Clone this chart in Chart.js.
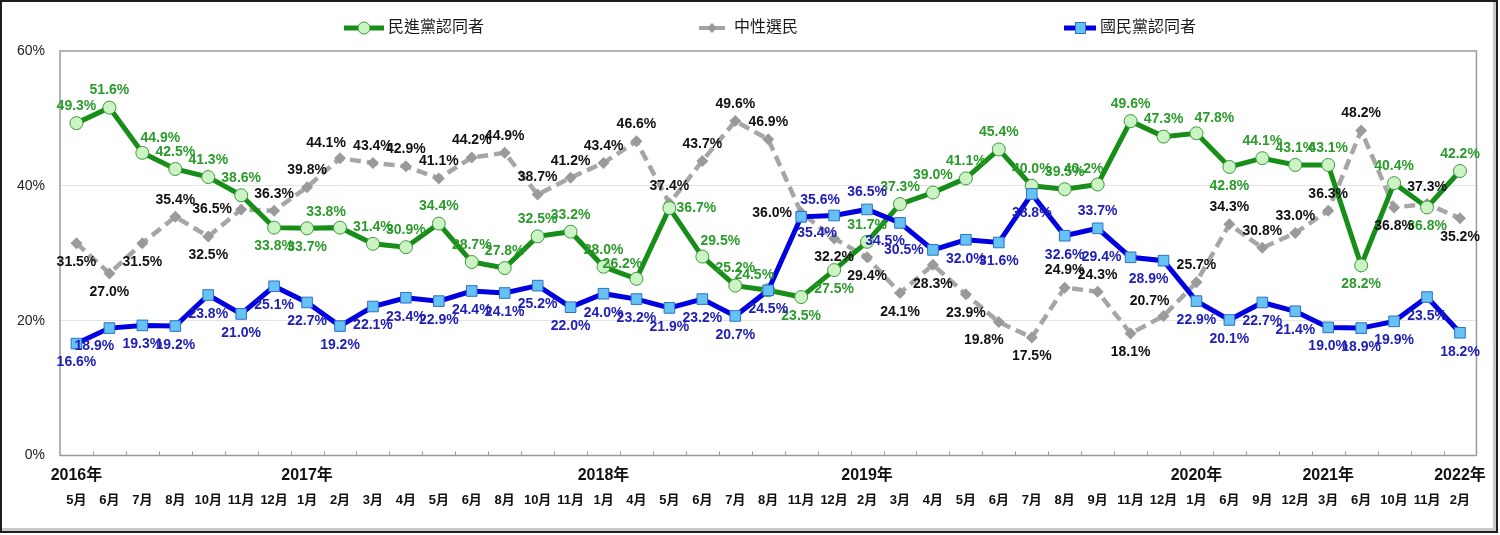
<!DOCTYPE html>
<html>
<head>
<meta charset="utf-8">
<script src="https://cdn.jsdelivr.net/npm/chart.js@4.4.1/dist/chart.umd.min.js"></script>
<style>
  html, body { margin: 0; padding: 0; background: #fff; }
  #frame {
    position: absolute; left: 0; top: 0;
    width: 1494px; height: 529px;
    border: 2px solid #1e1e1e;
    box-shadow: inset -3px -3px 0 #c8c8c8;
  }
  canvas { display: block; }
</style>
</head>
<body>
<div id="frame"><canvas id="chart" width="1494" height="529"></canvas></div>
<script>
// survey months (x categories)
const months = [
  '5月', '6月', '7月', '8月', '10月', '11月', '12月',
  '1月', '2月', '3月', '4月', '5月', '6月', '8月', '10月', '11月',
  '1月', '4月', '5月', '6月', '7月', '8月', '11月', '12月',
  '2月', '3月', '4月', '5月', '6月', '7月', '8月', '9月', '11月', '12月',
  '1月', '6月', '9月', '12月',
  '3月', '6月', '10月', '11月',
  '2月'
]

// year row of the x axis
const yearNames = ['2016年', '2017年', '2018年', '2019年', '2020年', '2021年', '2022年']
const yearAt = [0, 7, 16, 24, 34, 38, 42]

// 民進黨認同者
const dppValues = [
  49.3, 51.6, 44.9, 42.5, 41.3, 38.6, 33.8, 33.7, 33.8, 31.4,
  30.9, 34.4, 28.7, 27.8, 32.5, 33.2, 28.0, 26.2, 36.7, 29.5,
  25.2, 24.5, 23.5, 27.5, 31.7, 37.3, 39.0, 41.1, 45.4, 40.0,
  39.5, 40.2, 49.6, 47.3, 47.8, 42.8, 44.1, 43.1, 43.1, 28.2,
  40.4, 36.8, 42.2
]

// 中性選民
const neutralValues = [
  31.5, 27.0, 31.5, 35.4, 32.5, 36.5, 36.3, 39.8, 44.1, 43.4,
  42.9, 41.1, 44.2, 44.9, 38.7, 41.2, 43.4, 46.6, 37.4, 43.7,
  49.6, 46.9, 36.0, 32.2, 29.4, 24.1, 28.3, 23.9, 19.8, 17.5,
  24.9, 24.3, 18.1, 20.7, 25.7, 34.3, 30.8, 33.0, 36.3, 48.2,
  36.8, 37.3, 35.2
]

// 國民黨認同者
const kmtValues = [
  16.6, 18.9, 19.3, 19.2, 23.8, 21.0, 25.1, 22.7, 19.2, 22.1,
  23.4, 22.9, 24.4, 24.1, 25.2, 22.0, 24.0, 23.2, 21.9, 23.2,
  20.7, 24.5, 35.4, 35.6, 36.5, 34.5, 30.5, 32.0, 31.6, 38.8,
  32.6, 33.7, 29.4, 28.9, 22.9, 20.1, 22.7, 21.4, 19.0, 18.9,
  19.9, 23.5, 18.2
]

// which side of its point each value label sits on
const dppLabelSide = [
  't', 't', 'tr', 't', 't', 't', 'b', 'b', 'tl', 't',
  't', 't', 't', 't', 't', 't', 't', 'tl', 'r', 'tr',
  't', 'tl', 'b', 'b', 't', 't', 't', 't', 't', 't',
  't', 'tl', 't', 't', 'tr', 'b', 't', 't', 't', 'b',
  't', 'b', 't'
]
const neutralLabelSide = [
  'b', 'b', 'b', 't', 'b', 'l', 't', 't', 'tl', 't',
  't', 't', 't', 't', 't', 't', 't', 't', 't', 't',
  't', 't', 'l', 'b', 'b', 'b', 'b', 'b', 'bl', 'b',
  't', 't', 'b', 'tl', 't', 't', 't', 't', 't', 't',
  'b', 't', 'b'
]
const kmtLabelSide = [
  'b', 'bl', 'b', 'b', 'b', 'b', 'b', 'b', 'b', 'b',
  'b', 'b', 'b', 'b', 'b', 'b', 'b', 'b', 'b', 'b',
  'b', 'b', 'br', 'tl', 't', 'bl', 'l', 'b', 'b', 'b',
  'b', 't', 'l', 'bl', 'b', 'b', 'b', 'b', 'b', 'b',
  'b', 'b', 'b'
]

const GREEN = '#178e17'
const GREEN_TEXT = '#2b9b2b'
const GRAY = '#a6a6a6'
const BLUE = '#0000e0'
const BLUE_TEXT = '#2020b8'

const FONT = '"Liberation Sans", Arial, "Noto Sans CJK TC", sans-serif'
Chart.defaults.font.family = FONT

const SIDE_OFFSET = {
  t: [0, -17], b: [0, 19], l: [-29, 0], r: [27, 0],
  tl: [-14, -15], tr: [18, -15], bl: [-15, 18], br: [16, 16]
}

// draw the plot frame, x tick marks, value labels and the legend
const decorations = {
  id: 'decorations',
  beforeDatasetsDraw(chart) {
    const { ctx, chartArea: a, scales } = chart
    ctx.save()
    ctx.strokeStyle = '#9a9a9a'
    ctx.lineWidth = 1.5
    ctx.strokeRect(a.left, a.top, a.right - a.left, a.bottom - a.top)
    ctx.lineWidth = 1
    ctx.beginPath()
    for (let i = 0; i < months.length - 1; i++) {
      const x = Math.round((scales.x.getPixelForValue(i) + scales.x.getPixelForValue(i + 1)) / 2) + 0.5
      ctx.moveTo(x, a.bottom)
      ctx.lineTo(x, a.bottom - 4)
    }
    ctx.stroke()
    ctx.restore()
  },
  afterDatasetsDraw(chart) {
    const { ctx } = chart
    ctx.save()
    ctx.font = 'bold 14px ' + FONT
    ctx.textAlign = 'center'
    ctx.textBaseline = 'middle'
    chart.data.datasets.forEach((ds, di) => {
      const meta = chart.getDatasetMeta(di)
      meta.data.forEach((pt, i) => {
        const [dx, dy] = SIDE_OFFSET[ds.labelSide[i]]
        ctx.fillStyle = ds.labelColor
        ctx.fillText(ds.data[i].toFixed(1) + '%', pt.x + dx, pt.y + dy)
      })
    })
    ctx.restore()
  },
  afterDraw(chart) {
    const { ctx } = chart
    const y = 26
    ctx.save()
    ctx.font = '16px ' + FONT
    ctx.textBaseline = 'middle'
    ctx.fillStyle = '#1a1a1a'

    // 民進黨認同者
    ctx.strokeStyle = GREEN
    ctx.lineWidth = 5
    ctx.beginPath(); ctx.moveTo(342, y); ctx.lineTo(382, y); ctx.stroke()
    ctx.fillStyle = '#ccf3c4'
    ctx.strokeStyle = '#3a9a3a'
    ctx.lineWidth = 1
    ctx.beginPath(); ctx.arc(362, y, 6, 0, Math.PI * 2); ctx.fill(); ctx.stroke()
    ctx.fillStyle = '#1a1a1a'
    ctx.fillText('民進黨認同者', 386, y)

    // 中性選民
    ctx.strokeStyle = GRAY
    ctx.lineWidth = 4
    ctx.beginPath(); ctx.moveTo(697, y); ctx.lineTo(723, y); ctx.stroke()
    ctx.fillStyle = '#9a9a9a'
    ctx.beginPath()
    ctx.moveTo(710, y - 5); ctx.lineTo(715, y); ctx.lineTo(710, y + 5); ctx.lineTo(705, y)
    ctx.closePath(); ctx.fill()
    ctx.fillStyle = '#1a1a1a'
    ctx.fillText('中性選民', 732, y)

    // 國民黨認同者
    ctx.strokeStyle = BLUE
    ctx.lineWidth = 5
    ctx.beginPath(); ctx.moveTo(1062, y); ctx.lineTo(1094, y); ctx.stroke()
    ctx.fillStyle = '#66c2f2'
    ctx.strokeStyle = '#2f6fc8'
    ctx.lineWidth = 1
    ctx.fillRect(1073, y - 6, 11, 12)
    ctx.strokeRect(1073.5, y - 5.5, 10, 11)
    ctx.fillStyle = '#1a1a1a'
    ctx.fillText('國民黨認同者', 1098, y)
    ctx.restore()
  }
}

new Chart(document.getElementById('chart').getContext('2d'), {
  type: 'line',
  data: {
    labels: months,
    datasets: [
      {
        label: '民進黨認同者',
        data: dppValues,
        labelSide: dppLabelSide,
        labelColor: GREEN_TEXT,
        borderColor: GREEN,
        borderWidth: 5,
        pointStyle: 'circle',
        pointRadius: 6.5,
        pointBackgroundColor: '#ccf3c4',
        pointBorderColor: '#3a9a3a',
        pointBorderWidth: 1,
        tension: 0,
        order: 1
      },
      {
        label: '中性選民',
        data: neutralValues,
        labelSide: neutralLabelSide,
        labelColor: '#111',
        borderColor: GRAY,
        borderWidth: 4.5,
        borderDash: [11, 6],
        pointStyle: 'rectRot',
        pointRadius: 6,
        pointBackgroundColor: '#9a9a9a',
        pointBorderColor: '#9a9a9a',
        pointBorderWidth: 0,
        tension: 0,
        order: 2
      },
      {
        label: '國民黨認同者',
        data: kmtValues,
        labelSide: kmtLabelSide,
        labelColor: BLUE_TEXT,
        borderColor: BLUE,
        borderWidth: 5,
        pointStyle: 'rect',
        pointRadius: 7.5,
        pointBackgroundColor: '#66c2f2',
        pointBorderColor: '#2f6fc8',
        pointBorderWidth: 1,
        tension: 0,
        order: 0
      }
    ]
  },
  options: {
    responsive: false,
    animation: false,
    devicePixelRatio: 1,
    layout: { padding: { top: 49, right: 19, bottom: 0, left: 0 } },
    scales: {
      x: {
        type: 'category',
        position: 'bottom',
        offset: true,
        grid: { display: false, drawTicks: false },
        border: { display: false },
        ticks: {
          autoSkip: false,
          maxRotation: 0,
          padding: 10,
          color: '#111',
          font: { size: 16, weight: 'bold' },
          callback: (value, i) => {
            const k = yearAt.indexOf(i)
            return k >= 0 ? yearNames[k] : ''
          }
        },
        afterFit: (scale) => { scale.height = 32 }
      },
      m: {
        type: 'category',
        labels: months,
        position: 'bottom',
        offset: true,
        grid: { display: false, drawTicks: false },
        border: { display: false },
        ticks: {
          autoSkip: false,
          maxRotation: 0,
          padding: 5,
          color: '#111',
          font: { size: 13, weight: 'bold' }
        },
        afterFit: (scale) => { scale.height = 43.5 }
      },
      y: {
        min: 0,
        max: 60,
        ticks: {
          stepSize: 20,
          padding: 15,
          color: '#222',
          font: { size: 14 },
          callback: (v) => v + '%'
        },
        grid: {
          drawTicks: false,
          color: (c) => (c.tick.value === 0 || c.tick.value === 60 ? 'rgba(0,0,0,0)' : '#e3e3e3')
        },
        border: { display: false },
        afterFit: (scale) => { scale.width = 58 }
      }
    },
    plugins: {
      legend: { display: false },
      tooltip: { enabled: false }
    }
  },
  plugins: [decorations]
})
</script>
</body>
</html>
